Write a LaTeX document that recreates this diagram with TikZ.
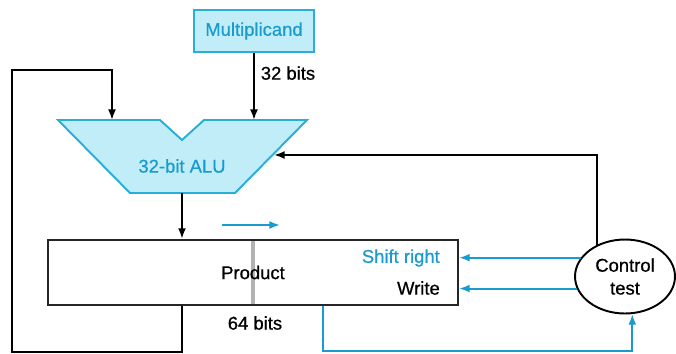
\documentclass[tikz,border=0pt]{standalone}
\usepackage{fontspec}
\setmainfont{Liberation Sans}[FakeBold=0.7]
\usetikzlibrary{shapes.geometric,arrows.meta}
\definecolor{aluline}{RGB}{40,175,215}
\definecolor{alufill}{RGB}{192,237,247}
\definecolor{ctlblue}{RGB}{25,155,205}
\tikzset{
  wire/.style={line width=1.1pt,-{Latex[length=6pt,width=4.5pt]}},
  ctlwire/.style={wire,ctlblue},
  unit/.style={draw=aluline,fill=alufill,line width=1.1pt},
}
\begin{document}
\begin{tikzpicture}[x=0.02cm,y=-0.02cm,font=\fontsize{10.5}{12}\selectfont]
        \useasboundingbox (0,0) rectangle (676,353);
        \draw (254,31) node[unit,minimum width=2.4cm,minimum height=0.84cm,inner sep=0pt,text=ctlblue] (M) {Multiplicand};
        \filldraw[unit] (58,120) -- (160,120) -- (182,140) -- (204,120) -- (307,120) -- (235,193) -- (130,193) -- cycle;
        \draw (182,166) node[text=ctlblue] (alu) {32-bit ALU};
        \coordinate (aluA) at (112,120);
        \coordinate (aluB) at (254,120);
        \coordinate (aluC) at (274,155);
        \coordinate (aluOut) at (182,193);
        \draw[gray!60,line width=2pt] (253,240) -- (253,305);
        \draw (253,272.5) node[draw=black!85,line width=1.3pt,minimum width=8.2cm,minimum height=1.3cm,inner sep=0pt] (prod) {Product};
        \draw (446,258) node[anchor=east,text=ctlblue] (shr) {Shift right};
        \draw (446,288) node[anchor=east] (wr) {Write};
        \draw (255,323) node (w64) {64 bits};
        \draw (625,276.5) node[ellipse,draw,line width=1.1pt,minimum width=2cm,minimum height=1.48cm,inner sep=0pt,align=center,font=\fontsize{10.5}{13}\selectfont] (ctl) {Control\\test};
        \draw[wire] (M) -- (aluB) node[right,pos=.3] {32 bits};
        \draw[wire] (aluOut) -- (prod.north -| aluOut);
        \draw[wire] (prod.south -| aluOut) -- ++(0,46) -| (12,70) -| (aluA);
        \draw[wire] (ctl.131) |- (aluC);
        \draw[ctlwire] (ctl.157) -- (prod.east |- ctl.157);
        \draw[ctlwire] (ctl.194) -- (prod.east |- ctl.194);
        \draw[ctlwire] ([xshift=1.4cm]prod.south) -- ++(0,45) -| (ctl.281);
        \draw[ctlwire] (222,225) -- (280,225);
\end{tikzpicture}
\end{document}
